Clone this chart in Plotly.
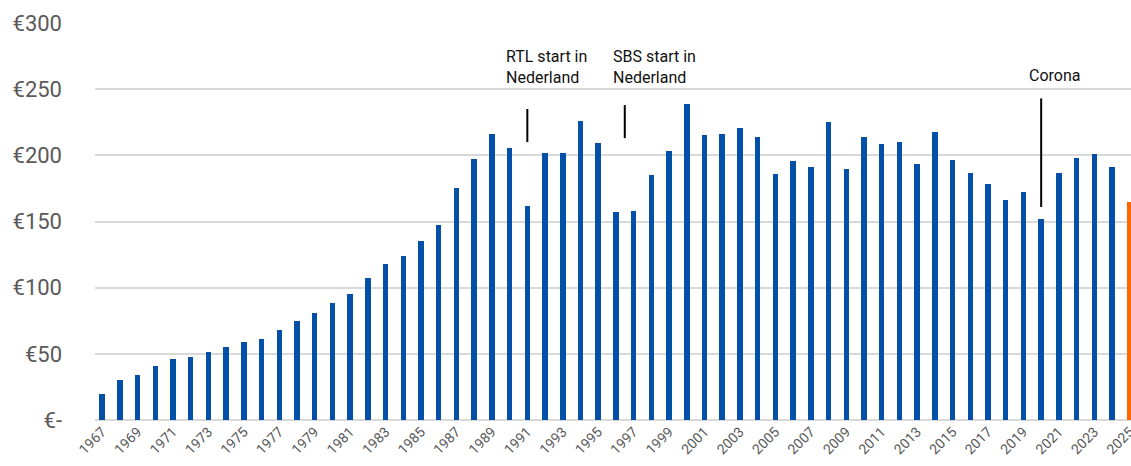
import plotly.graph_objects as go

years = list(range(1967, 2026))
values = [
    20, 30, 34, 41, 46, 47.5, 51.5, 55, 59, 61,
    68, 75, 81, 88.5, 95, 107.5, 118, 124, 135, 147,
    175, 197, 216, 205.5, 162, 201.5, 201.5, 226, 209, 157.5,
    158, 185.5, 203, 238.5, 215, 216, 221, 214, 186, 195.5,
    191.5, 225.5, 189.5, 214, 208.5, 210, 193.5, 217.5, 196.5, 187,
    178.5, 166, 172.5, 152, 187, 198, 201, 191, 165,
]
forecast_year = 2025

ytick_vals = [0, 50, 100, 150, 200, 250, 300]
ytick_text = ["€-", "€50", "€100", "€150", "€200", "€250", "€300"]
xtick_vals = list(range(1967, 2026, 2))

events = ["RTL start in<br>Nederland", "SBS start in<br>Nederland", "Corona"]
event_line_x = [1991, 1996.5, 2020]
event_line_y0 = [210, 213, 161]
event_line_y1 = [235, 238, 243]
event_text_x = [1989.67, 1995.75, 2020.75]
event_text_y = [267, 267, 260]
event_text_anchor = ["left", "left", "center"]

BLUE = "#0450a8"
ORANGE = "#ff6600"
colors = [ORANGE if y == forecast_year else BLUE for y in years]

fig = go.Figure(go.Bar(
    x=years, y=values, marker_color=colors, marker_line_width=0,
    width=0.31, hoverinfo="x+y",
))

for i in range(len(events)):
    fig.add_shape(type="line", xref="x", yref="y",
                  x0=event_line_x[i], x1=event_line_x[i],
                  y0=event_line_y0[i], y1=event_line_y1[i],
                  line=dict(color="black", width=2))
    fig.add_annotation(x=event_text_x[i], y=event_text_y[i], xref="x", yref="y",
                       text=events[i], showarrow=False, align="left",
                       xanchor=event_text_anchor[i], yanchor="middle",
                       font=dict(family="Roboto", size=16, color="#111111"))

fig.update_layout(
    width=1131, height=466,
    margin=dict(l=95, r=0, t=23, b=46),
    plot_bgcolor="white", paper_bgcolor="white",
    showlegend=False, bargap=0,
    font=dict(family="Roboto", color="#595959"),
)
fig.update_xaxes(
    range=[1966.6, 2025.07], tickmode="array", tickvals=xtick_vals,
    ticktext=[str(v) for v in xtick_vals], tickangle=-45,
    tickfont=dict(size=14, color="#595959"), showgrid=False,
    showline=False, zeroline=False, ticks="", ticklabeloverflow="allow",
    automargin=False,
)
fig.update_yaxes(
    range=[0, 300], tickmode="array", tickvals=ytick_vals, ticktext=ytick_text,
    tickfont=dict(size=22, color="#595959"), showgrid=True,
    gridcolor="#d9d9d9", gridwidth=2, zeroline=True, zerolinecolor="#d9d9d9",
    zerolinewidth=2, ticklabelstandoff=32, showline=False, ticks="",
    automargin=False,
)

fig.write_html(
    "out.html",
    config={"displayModeBar": False},
    post_script="document.body.style.margin='0px';document.body.style.overflow='hidden';",
)
